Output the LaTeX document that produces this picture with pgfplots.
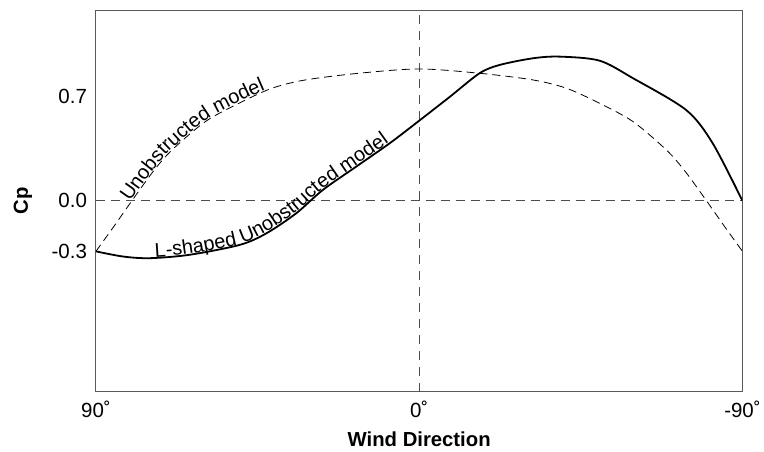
\documentclass[border=0pt]{standalone}
\usepackage{fontspec}
\setmainfont{Liberation Sans}
\usepackage{pgfplots}
\pgfplotsset{compat=1.18}
\usetikzlibrary{decorations.text}

\newcommand\lblfont{\fontsize{20bp}{24bp}\selectfont}

\begin{document}
\begin{tikzpicture}
\begin{axis}[
    scale only axis,
    width=647bp, height=382bp,
    x dir=reverse,
    xmin=-90, xmax=90,
    ymin=-1.285, ymax=1.285,
    xtick={-90,0,90}, xticklabels={-90˚,0˚,90˚},
    % the printed scale is not linear: -0.3 sits where the curves start
    ytick={-0.34,0,0.7}, yticklabels={-0.3,0.0,0.7},
    major tick length=0pt,
    tick label style={font=\fontsize{20.5bp}{24bp}\selectfont},
    xticklabel style={yshift=-6bp},
    yticklabel style={xshift=-5.5bp},
    xlabel={Wind Direction}, ylabel={Cp},
    label style={font=\bfseries\fontsize{20.3bp}{24bp}\selectfont},
    xlabel style={at={(axis description cs:0.5,-0.124)}, anchor=center},
    ylabel style={at={(axis description cs:-0.113,0.5)}, anchor=center},
    axis line style={black!65, line width=0.9bp},
]
% zero lines
\draw[black!70, line width=0.8bp, dash pattern=on 9bp off 7bp]
    (axis cs:0,-1.285) -- (axis cs:0,1.285);
\draw[black!70, line width=0.8bp, dash pattern=on 9bp off 6bp]
    (axis cs:90,0) -- (axis cs:-90,0);

% unobstructed model (dashed)
\addplot[black, line width=0.8bp, dash pattern=on 8bp off 5bp, smooth,
    postaction={decorate},
    decoration={text along path, raise=1bp,
        text align={left indent=60bp},
        text={|\lblfont|Unobstructed model}}]
coordinates {
    (90,-0.34) (85,-0.172) (80,0.0) (74,0.2) (68.8,0.343) (59.5,0.534)
    (50.2,0.657) (41,0.758) (31.7,0.814) (16.8,0.859) (0,0.888)
    (-16.8,0.859) (-31.7,0.814) (-41,0.758) (-50.2,0.657) (-59.5,0.534)
    (-68.8,0.343) (-74,0.2) (-80,0.0) (-85,-0.172) (-90,-0.34)
};

% L-shaped unobstructed model (solid)
\addplot[black, line width=1.8bp, smooth,
    postaction={decorate},
    decoration={text along path, raise=1bp,
        text align={left indent=60bp},
        text={|\lblfont|L-shaped Unobstructed model}}]
coordinates {
    (90,-0.34) (82.4,-0.375) (75,-0.386) (63.9,-0.363) (49.9,-0.296)
    (42.5,-0.218) (34.2,-0.083) (26.8,0.074) (17.5,0.231) (8.2,0.388)
    (0.3,0.534) (-8.5,0.700) (-16.8,0.859) (-22.4,0.915) (-31.7,0.960)
    (-39.1,0.971) (-50.2,0.944) (-59.5,0.826) (-74.3,0.612) (-81.7,0.388)
    (-90,0.0)
};
\end{axis}
\path ([shift={(-96bp,-60bp)}]current axis.south west)
    rectangle ([shift={(21bp,10bp)}]current axis.north east);
\end{tikzpicture}
\end{document}
